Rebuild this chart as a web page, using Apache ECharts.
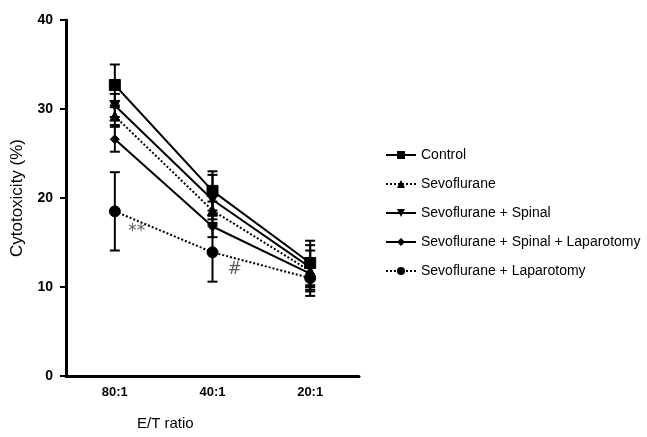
<!DOCTYPE html>
<html><head><meta charset="utf-8">
<script src="https://cdn.jsdelivr.net/npm/echarts@6/dist/echarts.min.js"></script>
<style>html,body{margin:0;padding:0;background:#fff}#c{width:647px;height:437px}</style>
</head><body><div id="c"></div>
<script>
const categories = ['80:1', '40:1', '20:1'];
const yTicks = [0, 10, 20, 30, 40];
const seriesNames = ['Control', 'Sevoflurane', 'Sevoflurane + Spinal', 'Sevoflurane + Spinal + Laparotomy', 'Sevoflurane + Laparotomy'];
const controlVals = [32.7, 20.8, 12.7];
const controlErr = [2.3, 2.2, 2.5];
const sevoVals = [29.2, 18.6, 11.8];
const sevoErr = [1.0, 1.0, 2.3];
const spinalVals = [30.4, 19.8, 12.2];
const spinalErr = [1.3, 2.8, 2.5];
const spinalLapVals = [26.6, 16.8, 11.5];
const spinalLapErr = [1.4, 1.2, 1.5];
const lapVals = [18.5, 13.9, 11.0];
const lapErr = [4.4, 3.3, 2.0];
const annotations = [{cat: '80:1', y: 16.2, text: '**', dx: 22}, {cat: '40:1', y: 12.0, text: '#', dx: 22}];

const vals = [controlVals, sevoVals, spinalVals, spinalLapVals, lapVals];
const errs = [controlErr, sevoErr, spinalErr, spinalLapErr, lapErr];
const symbols = ['rect', 'triangle', 'path://M0,0 L10,0 L5,10 Z', 'diamond', 'circle'];
const sizes = [11, 10, 10, 9, 11];
const lineTypes = ['solid', 'dotted', 'solid', 'solid', 'dotted'];

const chart = echarts.init(document.getElementById('c'));
const series = [];
vals.forEach((v, i) => {
  series.push({
    name: seriesNames[i] + ' (SE)', type: 'custom', z: 3, silent: true,
    data: v.map((val, j) => [j, val, errs[i][j]]),
    renderItem: function (params, api) {
      const x = api.value(0), y = api.value(1), e = api.value(2);
      const top = api.coord([x, y + e]);
      const bot = api.coord([x, y - e]);
      const hw = 5;
      const st = {stroke: '#000', lineWidth: 2};
      return {type: 'group', children: [
        {type: 'line', shape: {x1: top[0], y1: top[1], x2: bot[0], y2: bot[1]}, style: st},
        {type: 'line', shape: {x1: top[0] - hw, y1: top[1], x2: top[0] + hw, y2: top[1]}, style: st},
        {type: 'line', shape: {x1: bot[0] - hw, y1: bot[1], x2: bot[0] + hw, y2: bot[1]}, style: st}
      ]};
    }
  });
});
vals.forEach((v, i) => {
  series.push({
    name: seriesNames[i], type: 'line', data: v, z: 4,
    symbol: symbols[i], symbolSize: sizes[i], showAllSymbol: true,
    lineStyle: {color: '#000', width: 2, type: lineTypes[i]},
    itemStyle: {color: '#000', borderColor: '#000'},
    emphasis: {disabled: true}
  });
});
series.push({
  type: 'scatter', name: 'ann', symbolSize: 0, silent: true,
  data: annotations.map(a => ({value: [a.cat, a.y], label: {show: true, formatter: a.text, offset: [a.dx, 0]}})),
  label: {show: true, color: '#333', fontSize: 17, fontFamily: 'DejaVu Sans', position: 'inside'}
});

chart.setOption({
  animation: false,
  backgroundColor: '#fff',
  grid: {left: 66, right: 288, top: 20, bottom: 61},
  legend: {
    data: seriesNames, orient: 'vertical', left: 380, top: 143,
    itemWidth: 30, itemHeight: 10, itemGap: 15,
    textStyle: {fontFamily: 'Liberation Sans, Arial', fontSize: 14, color: '#000'},
    selectedMode: false
  },
  xAxis: {
    type: 'category', data: categories, boundaryGap: true,
    axisLine: {lineStyle: {color: '#000', width: 3}},
    axisTick: {alignWithLabel: true, length: 6, lineStyle: {width: 2, color: '#000'}},
    axisLabel: {color: '#000', fontWeight: 'bold', fontSize: 13, fontFamily: 'Liberation Sans, Arial', margin: 10}
  },
  yAxis: {
    type: 'value', min: yTicks[0], max: yTicks[yTicks.length - 1], interval: 10,
    name: 'Cytotoxicity (%)', nameLocation: 'middle', nameGap: 40,
    nameTextStyle: {color: '#000', fontSize: 17, fontFamily: 'Liberation Sans, Arial'},
    axisLine: {show: true, lineStyle: {color: '#000', width: 3}},
    axisTick: {show: true, length: 6, lineStyle: {width: 2, color: '#000'}},
    splitLine: {show: false},
    axisLabel: {color: '#000', fontWeight: 'bold', fontSize: 14, fontFamily: 'Liberation Sans, Arial', margin: 13}
  },
  graphic: [{type: 'text', left: 137, top: 416, style: {text: 'E/T ratio', fontSize: 15, fontFamily: 'Liberation Sans, Arial', fill: '#000'}}],
  series: series
});
</script></body></html>
